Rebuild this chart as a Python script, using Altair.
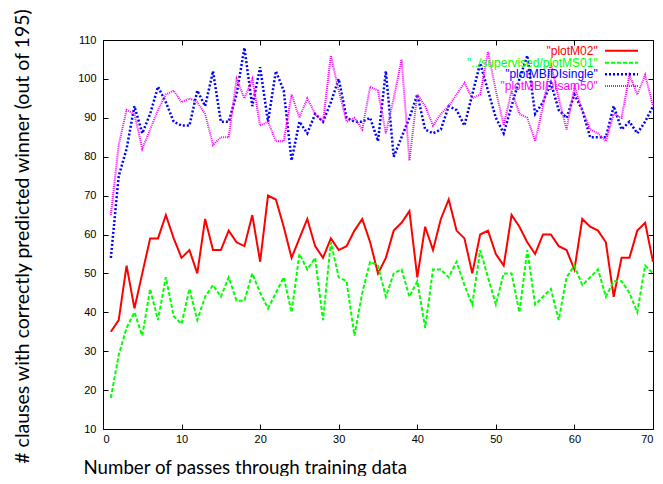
import altair as alt
import pandas as pd

passes = list(range(1, 71))

plot_m02 = [35, 38, 52, 41, 50, 59, 59, 65, 59, 54,
            56, 50, 64, 56, 56, 61, 58, 57, 65, 53,
            70, 69, 62, 54, 59, 64, 57, 54, 59, 56,
            57, 61, 64, 58, 50, 54, 61, 63, 66, 49,
            62, 56, 64, 69, 61, 59, 50, 60, 61, 55,
            52, 65, 62, 58, 55, 60, 60, 57, 56, 51,
            64, 62, 61, 58, 44, 54, 54, 61, 63, 53]

plot_ms01 = [18, 29, 36, 40, 34, 46, 38, 49, 39, 37,
             46, 38, 44, 47, 44, 49, 43, 43, 50, 45,
             41, 45, 49, 40, 55, 51, 54, 38, 58, 49,
             48, 34, 45, 53, 52, 44, 50, 51, 44, 48,
             36, 51, 51, 49, 53, 47, 42, 56, 49, 42,
             50, 50, 40, 56, 42, 44, 46, 38, 49, 52,
             47, 49, 51, 44, 48, 48, 45, 40, 52, 50]

plot_single = [54, 75, 82, 93, 86, 91, 98, 94, 89, 88,
               88, 97, 93, 102, 89, 89, 96, 108, 93, 103,
               89, 102, 97, 79, 89, 86, 91, 89, 94, 100,
               90, 89, 89, 90, 84, 102, 80, 85, 90, 96,
               87, 86, 87, 93, 92, 88, 96, 104, 97, 90,
               86, 93, 100, 106, 91, 94, 99, 92, 90, 96,
               92, 85, 85, 85, 93, 87, 89, 86, 89, 93]

plot_sam50 = [65, 83, 92, 91, 82, 87, 92, 96, 97, 94,
              95, 94, 91, 83, 85, 85, 100, 95, 100, 88,
              89, 84, 84, 96, 90, 95, 91, 89, 106, 97,
              89, 90, 87, 98, 97, 86, 95, 105, 79, 96,
              93, 88, 91, 93, 96, 99, 95, 96, 107, 97,
              88, 97, 91, 90, 84, 93, 104, 95, 87, 98,
              92, 87, 86, 84, 91, 90, 101, 96, 101, 93]

series_labels = ['"plotM02"', '"../supervised/plotMS01"', '"plotMBIDIsingle"', '"plotMBIDIsam50"']
series_colors = ["#ff0000", "#00ff00", "#0000ff", "#ff00ff"]
series_values = [plot_m02, plot_ms01, plot_single, plot_sam50]

x_ticks = list(range(0, 71, 10))
y_ticks = list(range(10, 111, 10))

W, H = 550, 389

xs = alt.Scale(domain=[0, 70], nice=False, zero=False)
ys = alt.Scale(domain=[10, 110], nice=False, zero=False)

LABEL_FONT = "Liberation Sans"
TITLE_FONT = "Lato"

main_x_axis = alt.Axis(
    values=x_ticks, ticks=False, tickSize=0, domain=False, grid=False,
    labelFont=LABEL_FONT, labelFontSize=11, labelColor="black", labelPadding=4,
    title="Number of passes through training data",
    titleFont=TITLE_FONT, titleFontSize=18.7, titleFontWeight="normal", titleColor="black",
    titleX=-20, titleY=44, titleAlign="left", titleAnchor="start", titleBaseline="alphabetic",
)
main_y_axis = alt.Axis(
    values=y_ticks, ticks=False, tickSize=0, domain=False, grid=False,
    labelFont=LABEL_FONT, labelFontSize=11, labelColor="black", labelPadding=7,
    title="# clauses with correctly predicted winner (out of 195)",
    titleFont=TITLE_FONT, titleFontSize=19.5, titleFontWeight="normal", titleColor="black",
    titleX=-75, titleY=196, titleAngle=-90, titleAlign="center", titleBaseline="alphabetic",
)

def tick_axis(orient, offset, vals):
    return alt.Axis(orient=orient, offset=offset, values=vals, labels=False, domain=False,
                    grid=False, ticks=True, tickSize=5, tickColor="black", tickWidth=1, title=None)

def series_df(i):
    return pd.DataFrame({"pass": passes, "value": series_values[i], "series": series_labels[i]})

red = alt.Chart(series_df(0)).mark_line(color=series_colors[0], strokeWidth=2).encode(
    x=alt.X("pass:Q", scale=xs, axis=main_x_axis),
    y=alt.Y("value:Q", scale=ys, axis=main_y_axis),
)
green = alt.Chart(series_df(1)).mark_line(color=series_colors[1], strokeWidth=2, strokeDash=[4, 2]).encode(
    x=alt.X("pass:Q", scale=xs, axis=tick_axis("top", -H, x_ticks)),
    y=alt.Y("value:Q", scale=ys, axis=tick_axis("right", -W, y_ticks)),
)
blue = alt.Chart(series_df(2)).mark_line(color=series_colors[2], strokeWidth=2.5, strokeDash=[2, 2]).encode(
    x=alt.X("pass:Q", scale=xs, axis=tick_axis("bottom", -H, x_ticks)),
    y=alt.Y("value:Q", scale=ys, axis=tick_axis("left", -W, y_ticks)),
)
magenta = alt.Chart(series_df(3)).mark_line(color=series_colors[3], strokeWidth=2, strokeDash=[1, 1]).encode(
    x=alt.X("pass:Q", scale=xs, axis=None),
    y=alt.Y("value:Q", scale=ys, axis=None),
)

legend_df = pd.DataFrame({"idx": [0, 1, 2, 3], "label": series_labels})
legend_dash = [[1, 0], [4, 2], [2, 2], [1, 1]]
legend_width = [2, 2, 2.5, 2]
legend_y = [10.7, 22.7, 34.3, 46]

legend_layers = []
for i in range(4):
    txt = alt.Chart(legend_df).transform_filter(alt.datum.idx == i).mark_text(
        align="right", baseline="middle", font=LABEL_FONT, fontSize=12, color=series_colors[i]
    ).encode(text="label:N", x=alt.value(494.7), y=alt.value(legend_y[i]))
    rule = alt.Chart(legend_df).transform_filter(alt.datum.idx == i).mark_rule(
        color=series_colors[i], strokeWidth=legend_width[i], strokeDash=legend_dash[i]
    ).encode(x=alt.value(502), x2=alt.value(535), y=alt.value(legend_y[i]))
    legend_layers += [txt, rule]

chart = alt.layer(red, green, blue, magenta, *legend_layers).resolve_axis(
    x="independent", y="independent"
).properties(
    width=W, height=H,
    padding={"left": 95, "top": 32, "right": 2, "bottom": 47},
    autosize=alt.AutoSizeParams(type="none"),
    background="white",
).configure_view(stroke="black", strokeWidth=1)

chart.save("out.html", embed_options={"renderer": "svg", "actions": False})
